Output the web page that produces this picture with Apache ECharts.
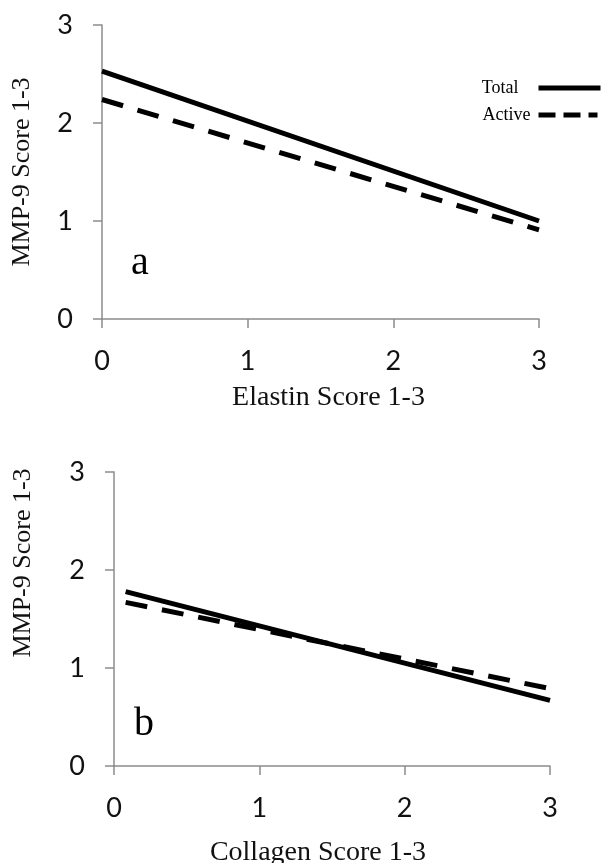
<!DOCTYPE html>
<html><head><meta charset="utf-8">
<script src="https://cdn.jsdelivr.net/npm/echarts@6/dist/echarts.min.js"></script>
<style>html,body{margin:0;padding:0;background:#fff}#c{width:604px;height:863px}</style>
</head><body><div id="c"></div>
<script>
const seriesNames = ['Total', 'Active'];
const elastinTotal = [[0, 2.53], [3, 1.0]];
const elastinActive = [[0, 2.24], [3, 0.91]];
const collagenTotal = [[0.08, 1.78], [3, 0.67]];
const collagenActive = [[0.08, 1.67], [3, 0.79]];
const xTitles = ['Elastin Score 1-3', 'Collagen Score 1-3'];
const yTitle = 'MMP-9 Score 1-3';
const panelLabels = ['a', 'b'];

const axisGray = '#8c8c8c';
const serif = '"Liberation Serif", "Times New Roman", serif';
const sans = 'Lato, "Open Sans", sans-serif';

function xAx(i, name, gap, pad) {
  return {
    gridIndex: i, type: 'value', min: 0, max: 3, interval: 1,
    axisLine: {show: true, lineStyle: {color: axisGray, width: 1.5}},
    axisTick: {show: true, length: 9, lineStyle: {color: axisGray, width: 1.5}},
    axisLabel: {fontFamily: sans, fontSize: 27, color: '#111', margin: 29},
    splitLine: {show: false},
    name: name, nameLocation: 'middle', nameGap: gap,
    nameTextStyle: {fontFamily: serif, fontSize: 28, color: '#111', padding: pad}
  };
}
function yAx(i, gap, pad) {
  return {
    gridIndex: i, type: 'value', min: 0, max: 3, interval: 1,
    axisLine: {show: true, lineStyle: {color: axisGray, width: 1.5}},
    axisTick: {show: true, length: 9, lineStyle: {color: axisGray, width: 1.5}},
    axisLabel: {fontFamily: sans, fontSize: 27, color: '#111', margin: 29},
    splitLine: {show: false},
    name: yTitle, nameLocation: 'middle', nameGap: gap,
    nameTextStyle: {fontFamily: serif, fontSize: 26, color: '#111', padding: pad}
  };
}
function line(name, data, idx, dashed) {
  return {
    type: 'line', name: name, data: data, xAxisIndex: idx, yAxisIndex: idx,
    symbol: 'none', showSymbol: false, silent: true, color: '#000',
    itemStyle: {color: '#000'},
    lineStyle: {color: '#000', width: 5, type: dashed ? [22, 15] : 'solid', cap: 'butt'}
  };
}
function legendFor(name, right, top, w, dash, textPad) {
  return {
    data: [name], orient: 'vertical', align: 'right', right: right, top: top, padding: 0,
    itemWidth: w, itemHeight: 14, selectedMode: false,
    itemStyle: {opacity: 0, borderWidth: 0},
    lineStyle: {color: '#000', width: 5, type: dash, cap: 'butt'},
    textStyle: {fontFamily: serif, fontSize: 18, color: '#000', padding: textPad}
  };
}

const chart = echarts.init(document.getElementById('c'), null, {renderer: 'canvas'});
chart.setOption({
  animation: false,
  backgroundColor: '#fff',
  grid: [
    {left: 102, top: 25, width: 437, height: 294, outerBoundsMode: 'none', containLabel: false},
    {left: 114, top: 472, width: 436, height: 294, outerBoundsMode: 'none', containLabel: false}
  ],
  xAxis: [xAx(0, xTitles[0], 65, [0, 0, 0, 16]), xAx(1, xTitles[1], 73, [0, 28, 0, 0])],
  yAxis: [yAx(0, 67, [0, 0, 0, 0]), yAx(1, 78, [0, 0, 0, 112])],
  legend: [
    legendFor(seriesNames[0], 1, 79, 62, 'solid', [0, 15, 0, 0]),
    legendFor(seriesNames[1], 4, 106, 59, [17, 8], [0, 3, 0, 0])
  ],
  graphic: [
    {type: 'text', x: 140, y: 263, style: {text: panelLabels[0], font: '40px ' + serif, fill: '#000', align: 'center', verticalAlign: 'middle'}},
    {type: 'text', x: 144, y: 724, style: {text: panelLabels[1], font: '40px ' + serif, fill: '#000', align: 'center', verticalAlign: 'middle'}}
  ],
  series: [
    line(seriesNames[0], elastinTotal, 0, false),
    line(seriesNames[1], elastinActive, 0, true),
    line(seriesNames[0], collagenTotal, 1, false),
    line(seriesNames[1], collagenActive, 1, true)
  ]
});
</script></body></html>
